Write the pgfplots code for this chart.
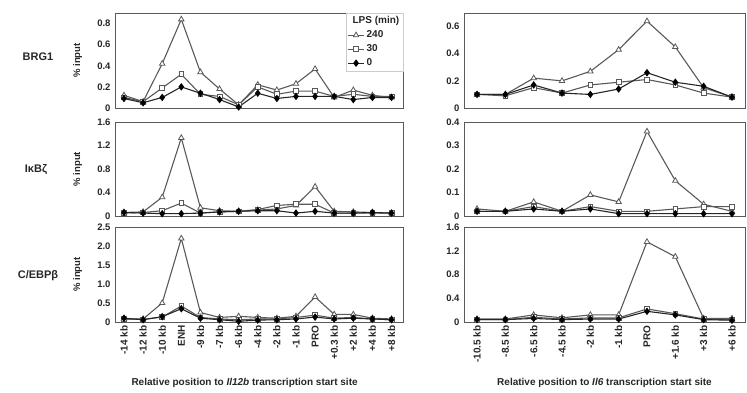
\documentclass[border=0pt]{standalone}
\usepackage{fontspec}
\setmainfont{Liberation Sans}
\usepackage{pgfplots}
\pgfplotsset{compat=1.18}
\definecolor{lc}{gray}{0.35}
\definecolor{ax}{gray}{0.35}
\definecolor{tx}{gray}{0.15}
\pgfplotsset{
  panel/.style={scale only axis, anchor=south west,
    axis line style={ax, line width=0.9pt},
    tick style={draw=none},
    /pgf/number format/assume math mode=true,
    ticklabel style={font=\fontsize{9.5}{11}\selectfont\bfseries, text=tx},
    yticklabel style={xshift=-1pt},
    label style={font=\fontsize{9.5}{11}\selectfont\bfseries, text=tx},
    clip=false},
  leftp/.style={panel, width=288pt, xmin=-0.47, xmax=14.6, xtick={0,...,14}, xticklabels={},
    ylabel={\% input}, ylabel style={at={(axis description cs:-0.13,0.5)}, anchor=center}},
  rightp/.style={panel, width=281pt, xmin=-0.46, xmax=9.46, xtick={0,...,9}, xticklabels={}},
  s240/.style={color=lc, line width=1.1pt, mark=triangle*, mark size=3.1pt, mark options={fill=white, draw=lc, line width=0.8pt}},
  s30/.style={color=lc, line width=1.1pt, mark=square*, mark size=2.4pt, mark options={fill=white, draw=lc, line width=0.8pt}},
  s0/.style={color=black!85, line width=1.1pt, mark=diamond*, mark size=2.9pt, mark options={fill=black, draw=black}},
}
\begin{document}
\begin{tikzpicture}
\useasboundingbox (0pt,0pt) rectangle (747pt,-392pt);
\tikzset{rowlab/.style={font=\fontsize{11}{13}\selectfont\bfseries, text=tx}}
\node[rowlab] at (38pt,-57pt) {BRG1};
\node[rowlab] at (36pt,-170pt) {IκBζ};
\node[rowlab] at (38pt,-276pt) {C/EBPβ};

% ---------- BRG1 left ----------
\begin{axis}[leftp, at={(115pt,-108pt)}, height=95pt, ymin=0, ymax=0.9,
  ytick={0,0.2,0.4,0.6,0.8}, yticklabels={0,0.2,0.4,0.6,0.8},
  legend style={at={(rel axis cs:1,1.0)}, anchor=north east, draw=gray!40, fill=none,
    font=\fontsize{10}{11}\selectfont\bfseries, text=tx, row sep=1.5pt, inner sep=1.5pt,
    legend cell align=left},
  legend image code/.code={\draw[#1] (0pt,0pt) -- (16pt,0pt); \draw[#1, only marks] plot coordinates {(8pt,0pt)};}]
\addlegendimage{empty legend}\addlegendentry{\hspace{-14pt}LPS (min)}
\addplot[s240] coordinates {(0,0.12)(1,0.06)(2,0.42)(3,0.84)(4,0.34)(5,0.18)(6,0.03)(7,0.22)(8,0.17)(9,0.23)(10,0.37)(11,0.10)(12,0.17)(13,0.12)(14,0.10)};
\addlegendentry{240}
\addplot[s30] coordinates {(0,0.10)(1,0.06)(2,0.19)(3,0.32)(4,0.13)(5,0.11)(6,0.03)(7,0.20)(8,0.13)(9,0.16)(10,0.16)(11,0.11)(12,0.13)(13,0.11)(14,0.11)};
\addlegendentry{30}
\addplot[s0] coordinates {(0,0.09)(1,0.05)(2,0.10)(3,0.20)(4,0.14)(5,0.08)(6,0.01)(7,0.14)(8,0.09)(9,0.11)(10,0.11)(11,0.11)(12,0.08)(13,0.10)(14,0.10)};
\addlegendentry{0}
\end{axis}

% ---------- IkBz left ----------
\begin{axis}[leftp, at={(115pt,-216pt)}, height=94pt, ymin=0, ymax=1.6,
  ytick={0,0.4,0.8,1.2,1.6}, yticklabels={0,0.4,0.8,1.2,1.6}]
\addplot[s240] coordinates {(0,0.06)(1,0.07)(2,0.32)(3,1.33)(4,0.14)(5,0.09)(6,0.08)(7,0.10)(8,0.12)(9,0.18)(10,0.50)(11,0.08)(12,0.07)(13,0.06)(14,0.05)};
\addplot[s30] coordinates {(0,0.05)(1,0.06)(2,0.09)(3,0.22)(4,0.05)(5,0.07)(6,0.08)(7,0.11)(8,0.18)(9,0.20)(10,0.20)(11,0.05)(12,0.05)(13,0.05)(14,0.05)};
\addplot[s0] coordinates {(0,0.06)(1,0.05)(2,0.04)(3,0.04)(4,0.05)(5,0.07)(6,0.08)(7,0.09)(8,0.09)(9,0.05)(10,0.08)(11,0.05)(12,0.05)(13,0.06)(14,0.05)};
\end{axis}

% ---------- C/EBPb left ----------
\begin{axis}[leftp, at={(115pt,-322pt)}, height=95pt, ymin=0, ymax=2.5,
  ytick={0,0.5,1.0,1.5,2.0,2.5}, yticklabels={0,0.5,1.0,1.5,2.0,2.5},
  xticklabels={-14 kb,-12 kb,-10 kb,ENH,-9 kb,-7 kb,-6 kb,-4 kb,-2 kb,-1 kb,PRO,+0.3 kb,+2 kb,+4 kb,+8 kb},
  xticklabel style={rotate=90, anchor=east, font=\fontsize{10}{11}\selectfont\bfseries},
  xlabel={Relative position to \textit{Il12b} transcription start site},
  xlabel style={at={(axis description cs:0.45,-0.645)}, anchor=center, font=\fontsize{10}{11}\selectfont\bfseries}]
\addplot[s240] coordinates {(0,0.08)(1,0.08)(2,0.50)(3,2.20)(4,0.25)(5,0.12)(6,0.15)(7,0.12)(8,0.10)(9,0.15)(10,0.66)(11,0.20)(12,0.20)(13,0.10)(14,0.08)};
\addplot[s30] coordinates {(0,0.08)(1,0.07)(2,0.13)(3,0.42)(4,0.12)(5,0.08)(6,0.06)(7,0.08)(8,0.08)(9,0.12)(10,0.18)(11,0.10)(12,0.12)(13,0.08)(14,0.06)};
\addplot[s0] coordinates {(0,0.10)(1,0.06)(2,0.14)(3,0.35)(4,0.10)(5,0.06)(6,0.02)(7,0.05)(8,0.06)(9,0.08)(10,0.13)(11,0.08)(12,0.10)(13,0.08)(14,0.06)};
\end{axis}

% ---------- BRG1 right ----------
\begin{axis}[rightp, at={(464pt,-108pt)}, height=95pt, ymin=0, ymax=0.7,
  ytick={0,0.2,0.4,0.6}, yticklabels={0,0.2,0.4,0.6}]
\addplot[s240] coordinates {(0,0.10)(1,0.10)(2,0.22)(3,0.20)(4,0.27)(5,0.43)(6,0.64)(7,0.45)(8,0.15)(9,0.08)};
\addplot[s30] coordinates {(0,0.10)(1,0.09)(2,0.15)(3,0.11)(4,0.17)(5,0.19)(6,0.21)(7,0.17)(8,0.11)(9,0.08)};
\addplot[s0] coordinates {(0,0.10)(1,0.10)(2,0.17)(3,0.11)(4,0.10)(5,0.14)(6,0.26)(7,0.19)(8,0.16)(9,0.08)};
\end{axis}

% ---------- IkBz right ----------
\begin{axis}[rightp, at={(464pt,-216pt)}, height=94pt, ymin=0, ymax=0.4,
  ytick={0,0.1,0.2,0.3,0.4}, yticklabels={0,0.1,0.2,0.3,0.4}]
\addplot[s240] coordinates {(0,0.03)(1,0.02)(2,0.06)(3,0.02)(4,0.09)(5,0.06)(6,0.36)(7,0.15)(8,0.05)(9,0.02)};
\addplot[s30] coordinates {(0,0.02)(1,0.02)(2,0.04)(3,0.02)(4,0.04)(5,0.02)(6,0.02)(7,0.03)(8,0.04)(9,0.04)};
\addplot[s0] coordinates {(0,0.02)(1,0.02)(2,0.03)(3,0.02)(4,0.03)(5,0.01)(6,0.01)(7,0.01)(8,0.01)(9,0.01)};
\end{axis}

% ---------- C/EBPb right ----------
\begin{axis}[rightp, at={(464pt,-322pt)}, height=95pt, ymin=0, ymax=1.6,
  ytick={0,0.4,0.8,1.2,1.6}, yticklabels={0,0.4,0.8,1.2,1.6},
  xticklabels={-10.5 kb,-8.5 kb,-6.5 kb,-4.5 kb,-2 kb,-1 kb,PRO,+1.6 kb,+3 kb,+6 kb},
  xticklabel style={rotate=90, anchor=east, font=\fontsize{10}{11}\selectfont\bfseries},
  xlabel={Relative position to \textit{Il6} transcription start site},
  xlabel style={at={(axis description cs:0.50,-0.645)}, anchor=center, font=\fontsize{10}{11}\selectfont\bfseries}]
\addplot[s240] coordinates {(0,0.05)(1,0.05)(2,0.12)(3,0.07)(4,0.12)(5,0.12)(6,1.35)(7,1.10)(8,0.06)(9,0.06)};
\addplot[s30] coordinates {(0,0.04)(1,0.04)(2,0.08)(3,0.05)(4,0.07)(5,0.07)(6,0.22)(7,0.14)(8,0.05)(9,0.04)};
\addplot[s0] coordinates {(0,0.04)(1,0.04)(2,0.06)(3,0.04)(4,0.05)(5,0.05)(6,0.18)(7,0.12)(8,0.04)(9,0.03)};
\end{axis}
\end{tikzpicture}
\end{document}
